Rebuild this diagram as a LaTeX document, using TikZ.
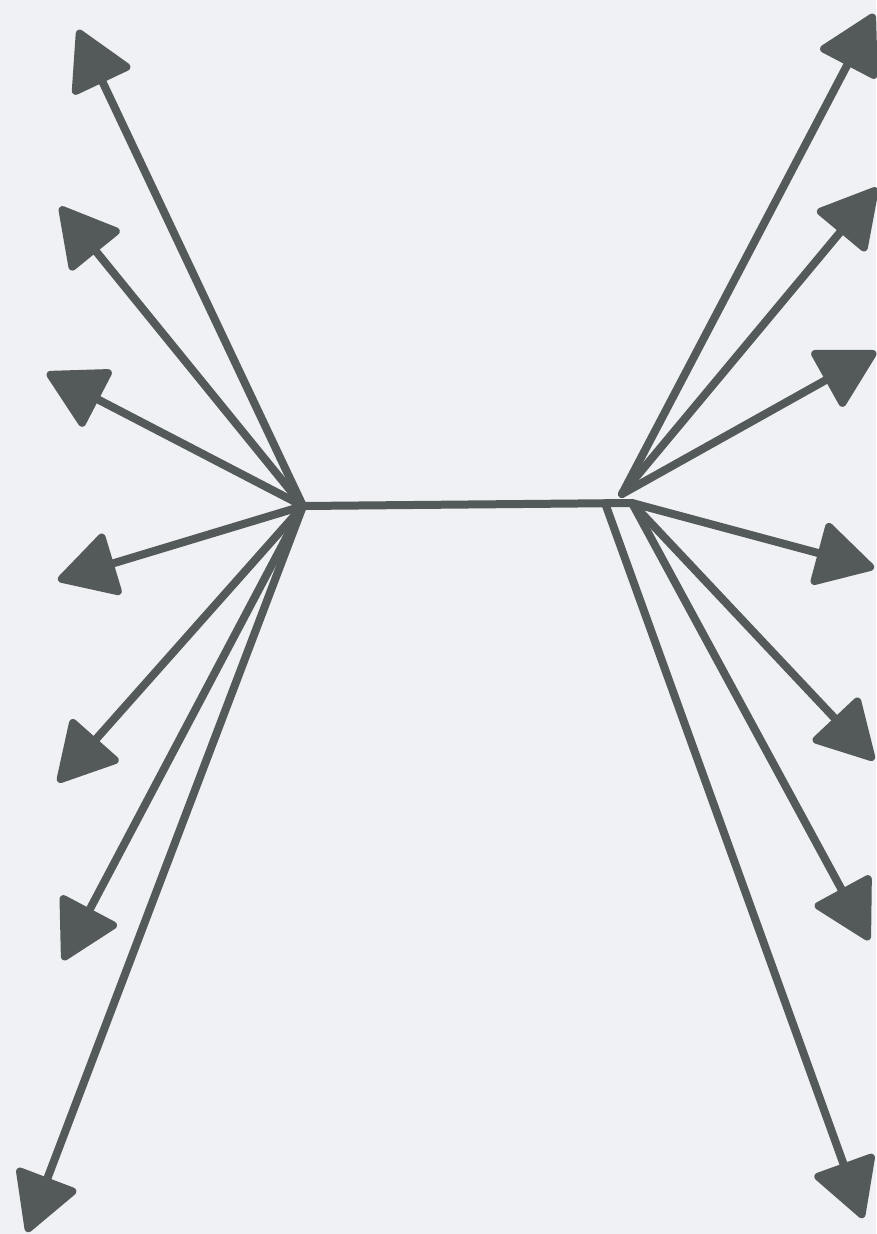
\documentclass[tikz,border=0pt]{standalone}
\usepackage{xcolor}
\usepackage{tikz}
\usetikzlibrary{arrows.meta}

\definecolor{paper}{HTML}{F0F1F4}
\definecolor{chalk}{HTML}{545959}

\begin{document}
\begin{tikzpicture}[
    x=0.02cm, y=-0.02cm,
    spoke/.style={chalk, line width=1.6mm, line cap=round,
        -{Triangle[length=12.5mm, width=13.5mm, round]}},
    bar/.style={chalk, line width=1.6mm, line cap=round},
]

% --- background / page size ---
\fill[paper] (0,0) rectangle (876,1234);
\useasboundingbox (0,0) rectangle (876,1234);

% --- hubs ---
\coordinate (hubL) at (303,506);
\coordinate (hubRup) at (622,494);
\coordinate (hubRlo) at (632,503);
\coordinate (hubRin) at (605,503);

% --- left tips ---
\coordinate (l1) at (78,30);
\coordinate (l2) at (60,207);
\coordinate (l3) at (47,373);
\coordinate (l4) at (58,580);
\coordinate (l5) at (58,782);
\coordinate (l6) at (63,960);
\coordinate (l7) at (27,1232);

% --- right tips ---
\coordinate (r1) at (874,14);
\coordinate (r2) at (877,188);
\coordinate (r3) at (876,352);
\coordinate (r4) at (874,568);
\coordinate (r5) at (874,760);
\coordinate (r6) at (869,940);
\coordinate (r7) at (863,1218);

% --- crossbar ---
\draw[bar] (hubL) -- (hubRlo);

% --- left spokes ---
\draw[spoke] (hubL) -- (l1);
\draw[spoke] (hubL) -- (l2);
\draw[spoke] (hubL) -- (l3);
\draw[spoke] (hubL) -- (l4);
\draw[spoke] (hubL) -- (l5);
\draw[spoke] (hubL) -- (l6);
\draw[spoke] (hubL) -- (l7);

% --- right spokes ---
\draw[spoke] (hubRup) -- (r1);
\draw[spoke] (hubRup) -- (r2);
\draw[spoke] (hubRup) -- (r3);
\draw[spoke] (hubRlo) -- (r4);
\draw[spoke] (hubRlo) -- (r5);
\draw[spoke] (hubRlo) -- (r6);
\draw[spoke] (hubRin) -- (r7);

\end{tikzpicture}
\end{document}
